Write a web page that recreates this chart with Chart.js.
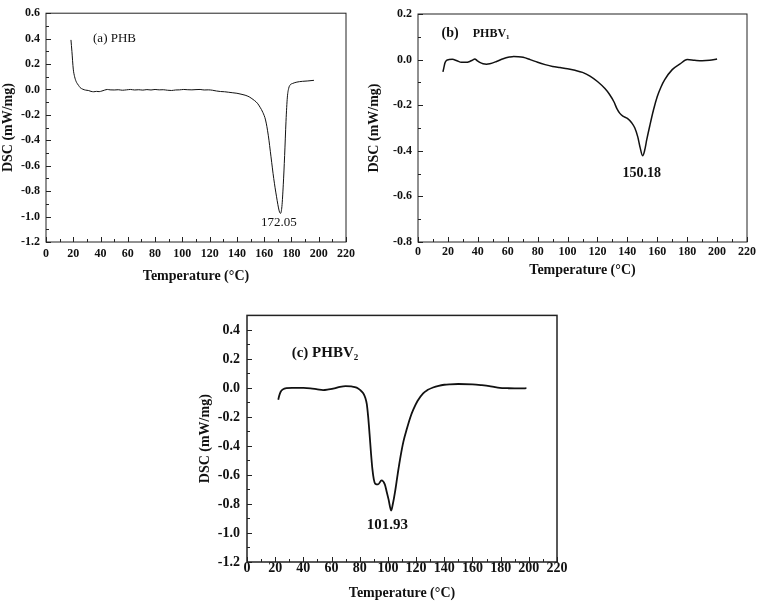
<!DOCTYPE html>
<html>
<head>
<meta charset="utf-8">
<script src="https://cdn.jsdelivr.net/npm/chart.js@4.4.1/dist/chart.umd.min.js"></script>
<style>
  body { margin: 0; background: #fff; }
  #lienzo { position: relative; width: 760px; height: 607px; }
  canvas { position: absolute; }
</style>
</head>
<body>
<div id="lienzo">
  <canvas id="graficoA" width="365" height="300" style="left:0px;top:0px"></canvas>
  <canvas id="graficoB" width="398" height="300" style="left:362px;top:0px"></canvas>
  <canvas id="graficoC" width="385" height="307" style="left:195px;top:300px"></canvas>
</div>
<script>
// Datos (temperatura en °C, DSC en mW/mg)
const phbTemp = [18.3, 19, 20, 21, 22, 23, 24, 25, 27, 29, 31, 33, 35, 37, 39, 41, 43, 45, 47, 50, 53, 56, 59, 62, 65, 68, 71, 74, 77, 80, 83, 86, 89, 92, 95, 98, 101, 104, 107, 110, 113, 116, 119, 122, 125, 128, 131, 134, 137, 140, 143, 146, 149, 151, 153, 155, 157, 159, 161, 163, 165, 167, 169, 171, 172, 173, 174, 175, 176, 177, 178, 179, 181, 184, 188, 192, 196.5];
const phbDsc = [0.39, 0.30, 0.16, 0.10, 0.065, 0.045, 0.03, 0.015, 0.002, -0.005, -0.008, -0.015, -0.018, -0.015, -0.017, -0.012, -0.005, 0.0, -0.003, -0.004, -0.002, -0.006, -0.003, 0.0, -0.004, -0.002, -0.005, -0.001, -0.004, 0.0, -0.003, -0.002, -0.006, -0.008, -0.004, -0.003, 0.0, -0.002, -0.003, -0.001, 0.0, -0.004, -0.003, -0.006, -0.012, -0.016, -0.018, -0.022, -0.026, -0.03, -0.037, -0.045, -0.058, -0.072, -0.088, -0.108, -0.14, -0.18, -0.24, -0.36, -0.53, -0.70, -0.84, -0.955, -0.975, -0.92, -0.75, -0.52, -0.25, -0.06, 0.01, 0.035, 0.048, 0.058, 0.064, 0.067, 0.072];

const phbv1Temp = [16.7, 17.3, 18, 19, 20.8, 23, 26, 29, 32, 34.6, 36.5, 38, 39.5, 41.3, 43.5, 45.8, 48, 52.5, 57, 61, 64, 67, 70.3, 75, 80, 85, 90, 95, 100, 105, 110, 115, 120, 125, 128, 131, 133, 135, 137, 140, 143, 145, 147, 148.5, 150.2, 151.5, 153, 155, 157.5, 160, 162.5, 165, 170, 175, 180, 185, 190, 195, 200];
const phbv1Dsc = [-0.054, -0.035, -0.015, -0.004, 0.0, 0.001, -0.005, -0.012, -0.012, -0.008, -0.002, 0.003, -0.004, -0.012, -0.018, -0.02, -0.018, -0.008, 0.004, 0.011, 0.014, 0.013, 0.01, 0.0, -0.012, -0.022, -0.03, -0.035, -0.04, -0.047, -0.056, -0.072, -0.096, -0.127, -0.152, -0.185, -0.215, -0.236, -0.248, -0.258, -0.278, -0.30, -0.34, -0.385, -0.422, -0.40, -0.35, -0.29, -0.22, -0.162, -0.12, -0.088, -0.044, -0.02, 0.0, -0.003, -0.005, -0.003, 0.003];

const phbv2Temp = [22.2, 22.8, 23.9, 25.5, 28, 32, 40, 45, 50, 54, 58, 62, 66, 70, 74, 77.8, 80, 82.5, 84, 85, 86, 87, 88, 89, 90, 91, 93, 95.5, 97.8, 99, 100.5, 102.3, 103.5, 105, 107, 109, 111, 113.5, 116, 118, 121, 125, 128, 132, 136, 140, 144, 150, 160, 166, 172, 176, 179.4, 185, 190, 195, 198.3];
const phbv2Dsc = [-0.081, -0.055, -0.026, -0.01, -0.002, 0.0, 0.0, -0.003, -0.01, -0.015, -0.01, -0.003, 0.008, 0.013, 0.01, 0.002, -0.012, -0.037, -0.07, -0.11, -0.2, -0.32, -0.45, -0.56, -0.63, -0.66, -0.665, -0.637, -0.665, -0.71, -0.77, -0.845, -0.80, -0.72, -0.59, -0.47, -0.37, -0.28, -0.2, -0.15, -0.09, -0.037, -0.015, 0.003, 0.015, 0.022, 0.025, 0.027, 0.025, 0.02, 0.013, 0.005, 0.0, -0.002, -0.003, -0.003, -0.002];

// Marcas de los ejes
const tempTicks = [0, 20, 40, 60, 80, 100, 120, 140, 160, 180, 200, 220];
const dscTicksA = [-1.2, -1.0, -0.8, -0.6, -0.4, -0.2, 0.0, 0.2, 0.4, 0.6];
const dscTicksB = [-0.8, -0.6, -0.4, -0.2, 0.0, 0.2];
const dscTicksC = [-1.2, -1.0, -0.8, -0.6, -0.4, -0.2, 0.0, 0.2, 0.4];

const serif = '"Liberation Serif", "Times New Roman", serif';

// Marco, marcas hacia dentro y textos de cada panel
const marcoPlugin = {
  id: 'marco',
  afterDraw(chart, args, opts) {
    const { ctx, chartArea: a, scales: { x, y } } = chart;
    ctx.save();
    ctx.strokeStyle = '#222';
    ctx.lineWidth = opts.frameWidth;
    ctx.strokeRect(a.left, a.top, a.right - a.left, a.bottom - a.top);
    ctx.lineWidth = 1;
    ctx.beginPath();
    const nx = Math.round((x.max - x.min) / 10);
    for (let i = 0; i <= nx; i++) {
      const px = Math.round(x.getPixelForValue(x.min + i * 10)) + 0.5;
      ctx.moveTo(px, a.bottom);
      ctx.lineTo(px, a.bottom - (i % 2 === 0 ? 5 : 3));
    }
    const ny = Math.round((y.max - y.min) / 0.1);
    for (let i = 0; i <= ny; i++) {
      const py = Math.round(y.getPixelForValue(y.min + i * 0.1)) + 0.5;
      ctx.moveTo(a.left, py);
      ctx.lineTo(a.left + (i % 2 === 0 ? 5 : 3), py);
    }
    ctx.stroke();
    ctx.fillStyle = '#111';
    ctx.textBaseline = 'middle';
    opts.textos.forEach(t => {
      ctx.font = t.font;
      ctx.textAlign = t.align;
      ctx.fillText(t.text, x.getPixelForValue(t.x), y.getPixelForValue(t.y));
    });
    ctx.restore();
  }
};

function crearPanel(id, temp, dsc, dscTicks, yMax, cfg) {
  const ctx = document.getElementById(id).getContext('2d');
  return new Chart(ctx, {
    type: 'line',
    data: {
      datasets: [{
        data: temp.map((t, i) => ({ x: t, y: dsc[i] })),
        borderColor: '#111',
        borderWidth: cfg.lineWidth,
        pointRadius: 0,
        fill: false,
        cubicInterpolationMode: 'monotone'
      }]
    },
    options: {
      responsive: false,
      animation: false,
      layout: { padding: cfg.padding },
      plugins: {
        legend: { display: false },
        tooltip: { enabled: false },
        marco: { frameWidth: cfg.frameWidth, textos: cfg.textos }
      },
      scales: {
        x: {
          type: 'linear',
          min: tempTicks[0], max: tempTicks[tempTicks.length - 1],
          afterFit: s => { s.height = cfg.xHeight; },
          afterBuildTicks: s => { s.ticks = tempTicks.map(v => ({ value: v })); },
          grid: { display: false, drawTicks: false },
          border: { display: false },
          ticks: {
            autoSkip: false, maxRotation: 0,
            padding: cfg.xPad, color: '#111',
            font: { family: serif, size: cfg.tickSize, weight: 'bold' }
          },
          title: {
            display: true, text: 'Temperature (°C)', color: '#111',
            font: { family: serif, size: 14, weight: 'bold' },
            padding: { top: 0, bottom: cfg.xTitlePad }
          }
        },
        y: {
          min: dscTicks[0], max: yMax,
          afterFit: s => { s.width = cfg.yWidth; },
          afterBuildTicks: s => { s.ticks = dscTicks.map(v => ({ value: v })); },
          grid: { display: false, drawTicks: false },
          border: { display: false },
          ticks: {
            padding: cfg.yPad, color: '#111',
            font: { family: serif, size: cfg.tickSize, weight: 'bold' },
            callback: v => (Math.abs(v) < 1e-9 ? 0 : v).toFixed(1)
          },
          title: {
            display: true, text: 'DSC (mW/mg)', color: '#111',
            font: { family: serif, size: 14, weight: 'bold' },
            padding: { top: cfg.yTitlePad, bottom: 0 }
          }
        }
      }
    },
    plugins: [marcoPlugin]
  });
}

crearPanel('graficoA', phbTemp, phbDsc, dscTicksA, 0.6, {
  lineWidth: 1, frameWidth: 1, tickSize: 12,
  padding: { top: 8, right: 19, left: 0, bottom: 0 },
  xHeight: 58, yWidth: 46, xPad: 5, yPad: 6, xTitlePad: 15.6, yTitlePad: 0,
  textos: [
    { text: '(a) PHB', x: 34.5, y: 0.4, align: 'left', font: '13px ' + serif },
    { text: '172.05', x: 170.8, y: -1.05, align: 'center', font: '13px ' + serif }
  ]
});

crearPanel('graficoB', phbv1Temp, phbv1Dsc, dscTicksB, 0.2, {
  lineWidth: 1.5, frameWidth: 1, tickSize: 12,
  padding: { top: 14, right: 13, left: 0, bottom: 0 },
  xHeight: 58, yWidth: 56, xPad: 3, yPad: 6, xTitlePad: 21.6, yTitlePad: 3.6,
  textos: [
    { text: '(b)', x: 15.7, y: 0.114, align: 'left', font: 'bold 14px ' + serif },
    { text: 'PHBV₁', x: 36.6, y: 0.114, align: 'left', font: 'bold 12px ' + serif },
    { text: '150.18', x: 149.7, y: -0.497, align: 'center', font: 'bold 14px ' + serif }
  ]
});

crearPanel('graficoC', phbv2Temp, phbv2Dsc, dscTicksC, 0.5, {
  lineWidth: 1.8, frameWidth: 1.5, tickSize: 14,
  padding: { top: 6, right: 23, left: 0, bottom: 0 },
  xHeight: 45, yWidth: 52, xPad: -2, yPad: 7, xTitlePad: 5.3, yTitlePad: 1.6,
  textos: [
    { text: '(c) PHBV₂', x: 31.7, y: 0.239, align: 'left', font: 'bold 15px ' + serif },
    { text: '101.93', x: 99.6, y: -0.946, align: 'center', font: 'bold 15px ' + serif }
  ]
});
</script>
</body>
</html>
